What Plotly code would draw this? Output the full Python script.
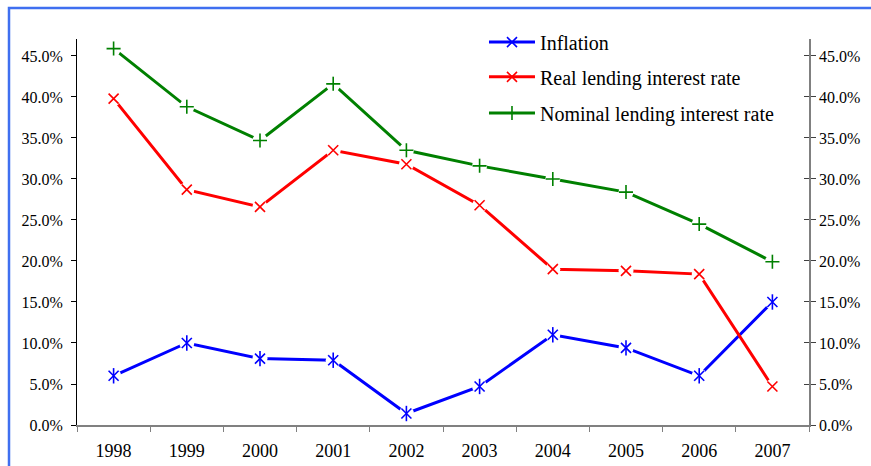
import plotly.graph_objects as go

# Category labels and series values (fractions, shown as percentages)
years = ["1998", "1999", "2000", "2001", "2002", "2003", "2004", "2005", "2006", "2007"]
inflation = [0.060, 0.100, 0.081, 0.079, 0.014, 0.047, 0.110, 0.094, 0.060, 0.150]
real_rate = [0.398, 0.287, 0.266, 0.335, 0.318, 0.268, 0.190, 0.188, 0.184, 0.047]
nominal_rate = [0.459, 0.388, 0.347, 0.416, 0.335, 0.316, 0.300, 0.284, 0.245, 0.199]
y_ticks = [0.0, 0.05, 0.10, 0.15, 0.20, 0.25, 0.30, 0.35, 0.40, 0.45]

W, H = 871, 466
L, R, T, B = 77, 62, 39, 41
plot_w = W - L - R
plot_h = H - T - B
y_max = 0.4707

FONT = "Liberation Serif, Times New Roman, serif"

series = [
    ("Inflation", inflation, "#0000ff", "legend", 0.992, True),
    ("Real lending interest rate", real_rate, "#ff0000", "legend2", 0.902, False),
    ("Nominal lending interest rate", nominal_rate, "#008000", "legend3", 0.808, False),
]

fig = go.Figure()

for name, vals, color, leg, _, star in series:
    sym = "x-thin" if name != "Nominal lending interest rate" else "cross-thin"
    # line with marker (also the legend sample)
    fig.add_trace(go.Scatter(
        x=years, y=vals, name=name, mode="lines+markers", legend=leg,
        line=dict(color=color, width=3),
        marker=dict(symbol=sym, size=10, color=color, line=dict(color=color, width=1.6)),
        hoverinfo="skip",
    ))
    # white halo that breaks the line around each marker
    fig.add_trace(go.Scatter(
        x=years, y=vals, mode="markers", showlegend=False,
        marker=dict(symbol="circle", size=15, color="white", line=dict(width=0)),
        hoverinfo="skip",
    ))
    fig.add_trace(go.Scatter(
        x=years, y=vals, mode="markers", showlegend=False,
        marker=dict(symbol=sym, size=10, color=color, line=dict(color=color, width=1.6)),
        hoverinfo="skip",
    ))
    if star:
        fig.add_trace(go.Scatter(
            x=years, y=vals, mode="markers", showlegend=False,
            marker=dict(symbol="line-ns", size=11, color=color, line=dict(color=color, width=1.6)),
            hoverinfo="skip",
        ))

# invisible traces so the right-hand axes are rendered
for ax in ("y2", "y3"):
    fig.add_trace(go.Scatter(x=years, y=inflation, yaxis=ax, mode="markers",
                             marker=dict(opacity=0), showlegend=False, hoverinfo="skip"))

tick_text = [f"{v * 100:.1f}%" for v in y_ticks]

legend_common = dict(
    xanchor="left", yanchor="middle", x=0.556,
    font=dict(family=FONT, size=20, color="black"),
    bgcolor="rgba(0,0,0,0)", borderwidth=0, itemwidth=46,
)

fig.update_layout(
    width=W, height=H,
    margin=dict(l=L, r=R, t=T, b=B, autoexpand=False),
    paper_bgcolor="white", plot_bgcolor="white",
    font=dict(family=FONT, size=16, color="black"),
    xaxis=dict(
        type="category", tickson="boundaries", range=[-0.5, 9.5],
        showline=True, linecolor="#808080", linewidth=1.5,
        ticks="outside", ticklen=5, tickcolor="#808080", tickwidth=1,
        showgrid=False, zeroline=False, automargin=False,
        tickfont=dict(family=FONT, size=18), ticklabelstandoff=9,
    ),
    yaxis=dict(
        range=[0, y_max], tickvals=y_ticks, ticktext=tick_text,
        showline=True, linecolor="black", linewidth=1,
        ticks="outside", ticklen=5, tickcolor="black",
        showgrid=False, zeroline=False, automargin=False,
        tickfont=dict(family=FONT, size=16), ticklabelstandoff=5,
    ),
    yaxis2=dict(
        range=[0, y_max], tickvals=y_ticks, ticktext=tick_text,
        overlaying="y", side="right", anchor="x",
        showline=True, linecolor="#808080", linewidth=1.5,
        ticks="outside", ticklen=5, tickcolor="#404040",
        showgrid=False, zeroline=False, automargin=False,
        tickfont=dict(family=FONT, size=16),
    ),
    yaxis3=dict(
        range=[0, y_max], tickvals=y_ticks, showticklabels=False,
        overlaying="y", side="right", anchor="x",
        showline=False, ticks="inside", ticklen=5, tickcolor="#404040",
        showgrid=False, zeroline=False, automargin=False,
    ),
    legend=dict(**legend_common, y=series[0][4]),
    legend2=dict(**legend_common, y=series[1][4]),
    legend3=dict(**legend_common, y=series[2][4]),
    showlegend=True,
)

# outer frame of the chart area
px2x = lambda px: (px - L) / plot_w
px2y = lambda py: (H - B - py) / plot_h
fig.add_shape(type="rect", xref="paper", yref="paper",
              x0=px2x(9), x1=px2x(W + 20), y0=px2y(H + 20), y1=px2y(8),
              line=dict(color="#3f6ff0", width=2.5), fillcolor="rgba(0,0,0,0)", layer="below")

fig.write_html("out.html")
